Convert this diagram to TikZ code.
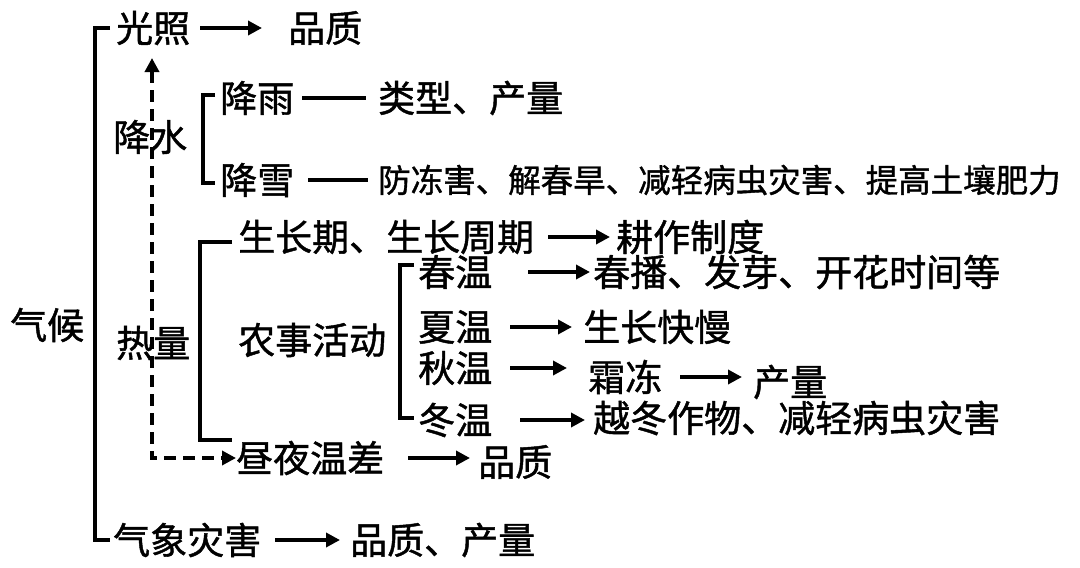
\documentclass[tikz,border=0pt]{standalone}
\usepackage{fontspec}
\setmainfont{Noto Sans CJK SC}
\newfontfamily\boldcjk[FakeBold=1.2]{Noto Sans CJK SC}
\usetikzlibrary{arrows.meta}
\begin{document}
\begin{tikzpicture}[x=1pt,y=-1pt,
  t/.style={anchor=west,inner sep=0pt,font=\boldcjk\fontsize{37}{40}\selectfont},
  s/.style={anchor=west,inner sep=0pt,font=\boldcjk\fontsize{32.5}{35}\selectfont},
  ar/.style={line width=3.5pt,-{Triangle[length=14pt,width=14pt]}},
  ln/.style={line width=3.5pt},
  br/.style={line width=3.5pt}]
\useasboundingbox (0,0) rectangle (1080,568);
\node[t] (qh) at (10,325) {气候};
\node[t] (gz) at (116,28) {光照};
\node[t] (gzq) at (288,28) {品质};
\node[t] (js) at (113,137) {降水};
\node[t] (jy) at (220,98) {降雨};
\node[t] (jyr) at (378,98) {类型、产量};
\node[t] (jx) at (220,180) {降雪};
\node[s] (jxr) at (378,180) {防冻害、解春旱、减轻病虫灾害、提高土壤肥力};
\node[t] (rl) at (116,343) {热量};
\node[t] (szq) at (238,237) {生长期、生长周期};
\node[t] (gzzd) at (616,237) {耕作制度};
\node[t] (nshd) at (238,340) {农事活动};
\node[t] (cw) at (418,272) {春温};
\node[t] (cwr) at (593,272) {春播、发芽、开花时间等};
\node[t] (xw) at (418,327) {夏温};
\node[t] (xwr) at (583,327) {生长快慢};
\node[t] (qw) at (418,368) {秋温};
\node[t] (sd) at (588,377) {霜冻};
\node[t] (sdr) at (753,382) {产量};
\node[t] (dw) at (418,420) {冬温};
\node[t] (dwr) at (593,418) {越冬作物、减轻病虫灾害};
\node[t] (zy) at (236,458) {昼夜温差};
\node[t] (zyr) at (478,462) {品质};
\node[t] (qx) at (113,540) {气象灾害};
\node[t] (qxr) at (350,540) {品质、产量};
% brackets
\draw[br] (110,28) -- (95,28) -- (95,540) -- (110,540);
\draw[br] (215,95) -- (203,95) -- (203,183) -- (215,183);
\draw[br] (232,242) -- (200,242) -- (200,440) -- (232,440);
\draw[br] (414,265) -- (400,265) -- (400,418) -- (414,418);
% arrows
\draw[ar] (gz.east -| 200,0) -- (gz.east -| 262,0);
\draw[ln] (jy.east -| 302,0) -- (jy.east -| 366,0);
\draw[ln] (jx.east -| 308,0) -- (jx.east -| 368,0);
\draw[ar] (szq.east -| 548,0) -- (szq.east -| 610,0);
\draw[ar] (cw.east -| 528,0) -- (cw.east -| 590,0);
\draw[ar] (xw.east -| 510,0) -- (xw.east -| 572,0);
\draw[ar] (qw.east -| 510,0) -- (qw.east -| 567,0);
\draw[ar] (sd.east -| 680,0) -- (sd.east -| 742,0);
\draw[ar] (dw.east -| 520,0) -- (dw.east -| 585,0);
\draw[ar] (zy.east -| 408,0) -- (zy.east -| 470,0);
\draw[ar] (qx.east -| 275,0) -- (qx.east -| 340,0);
% dashed
\coordinate (dc) at (152,458);
\coordinate (dt) at (152,58);
\draw[line width=3.5pt,dash pattern=on 12pt off 7pt,{Triangle[length=14pt,width=14pt]}-{Triangle[length=14pt,width=14pt]}] (dt) -- (dc) -- (zy.west);
\end{tikzpicture}
\end{document}
